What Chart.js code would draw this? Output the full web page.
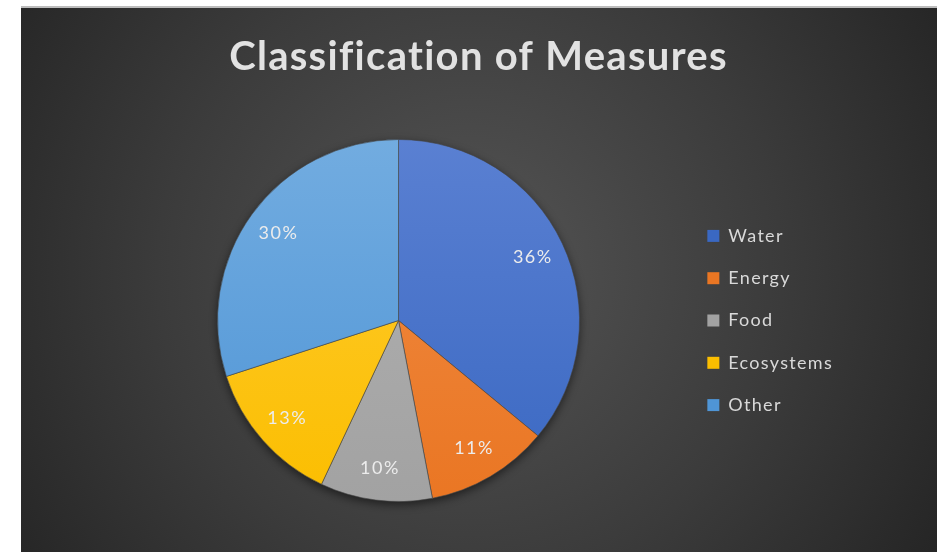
<!DOCTYPE html>
<html>
<head>
<meta charset="utf-8">
<script src="https://cdn.jsdelivr.net/npm/chart.js@4.4.1/dist/chart.umd.min.js"></script>
<style>
  html, body { margin: 0; padding: 0; background: #ffffff; }
  #wrap { position: relative; width: 945px; height: 552px; }
</style>
</head>
<body>
<div id="wrap"><canvas id="c"></canvas></div>
<script>
const titleText = "Classification of Measures";
const categories = ["Water", "Energy", "Food", "Ecosystems", "Other"];
const shares = [36, 11, 10, 13, 30];
const baseColors = ["#3A68C2", "#EA7623", "#A2A2A2", "#FBBE00", "#4F95D6"];
const topColors  = ["#5A80D2", "#F08C45", "#B2B2B2", "#FFCC33", "#72ACE0"];

const bgPlugin = {
  id: 'bg',
  beforeLayout(chart) {
    chart.ctx.letterSpacing = '1.3px';
  },
  beforeDraw(chart) {
    const ctx = chart.ctx;
    const W = chart.width, H = chart.height;
    ctx.fillStyle = '#ffffff';
    ctx.fillRect(0, 0, W, H);
    ctx.fillStyle = '#bdbdbd';
    ctx.fillRect(21, 6, 916, 2);
    const g = ctx.createRadialGradient(470, 270, 10, 470, 270, 560);
    g.addColorStop(0, '#545454');
    g.addColorStop(0.55, '#3b3b3b');
    g.addColorStop(1, '#242424');
    ctx.fillStyle = g;
    ctx.fillRect(21, 8, 916, H - 8);
    // wider tracking for title and legend text (drawn next)
    ctx.letterSpacing = '1.3px';
  },
  beforeDatasetsDraw(chart) {
    chart.ctx.letterSpacing = '0px';
  }
};

const shadowPlugin = {
  id: 'pieShadow',
  beforeDatasetsDraw(chart) {
    const meta = chart.getDatasetMeta(0);
    if (!meta.data.length) return;
    const a = meta.data[0];
    const ctx = chart.ctx;
    ctx.save();
    ctx.shadowColor = 'rgba(0,0,0,0.55)';
    ctx.shadowBlur = 10;
    ctx.shadowOffsetY = 3;
    ctx.fillStyle = '#333';
    ctx.beginPath();
    ctx.arc(a.x, a.y, a.outerRadius, 0, Math.PI * 2);
    ctx.fill();
    ctx.restore();
  }
};

const labelPlugin = {
  id: 'sliceLabels',
  afterDatasetsDraw(chart) {
    const meta = chart.getDatasetMeta(0);
    const ctx = chart.ctx;
    ctx.save();
    ctx.font = '18px Lato';
    ctx.letterSpacing = '1.5px';
    ctx.fillStyle = '#ececec';
    ctx.textAlign = 'center';
    ctx.textBaseline = 'middle';
    meta.data.forEach((arc, i) => {
      const mid = (arc.startAngle + arc.endAngle) / 2;
      const r = arc.outerRadius * 0.82;
      ctx.fillText(shares[i] + '%', arc.x + Math.cos(mid) * r, arc.y + Math.sin(mid) * r);
    });
    ctx.restore();
  }
};

function sliceFill(context) {
  const chart = context.chart;
  const area = chart.chartArea;
  const i = context.dataIndex;
  if (!area) return baseColors[i];
  const g = chart.ctx.createLinearGradient(0, area.top, 0, area.bottom);
  g.addColorStop(0, topColors[i]);
  g.addColorStop(1, baseColors[i]);
  return g;
}

new Chart(document.getElementById('c'), {
  type: 'pie',
  data: {
    labels: categories,
    datasets: [{
      data: shares,
      backgroundColor: sliceFill,
      borderColor: 'rgba(70,70,70,0.6)',
      borderWidth: 1
    }]
  },
  options: {
    responsive: true,
    maintainAspectRatio: false,
    animation: false,
    layout: { padding: { top: 8, bottom: 50, left: 114, right: 102 } },
    plugins: {
      title: {
        display: true,
        text: titleText,
        color: '#e2e2e2',
        font: { family: 'Lato', size: 40, weight: 'bold' },
        padding: { top: 25, bottom: 58 }
      },
      legend: {
        position: 'right',
        fullSize: false,
        labels: {
          color: '#d9d9d9',
          font: { family: 'Lato', size: 18 },
          boxWidth: 12,
          boxHeight: 12,
          padding: 24.3,
          generateLabels(chart) {
            return categories.map((c, i) => ({
              text: c,
              fillStyle: baseColors[i],
              strokeStyle: baseColors[i],
              lineWidth: 0,
              fontColor: '#d9d9d9',
              index: i,
              hidden: false
            }));
          }
        }
      },
      tooltip: { enabled: false }
    }
  },
  plugins: [bgPlugin, shadowPlugin, labelPlugin]
});
</script>
</body>
</html>
